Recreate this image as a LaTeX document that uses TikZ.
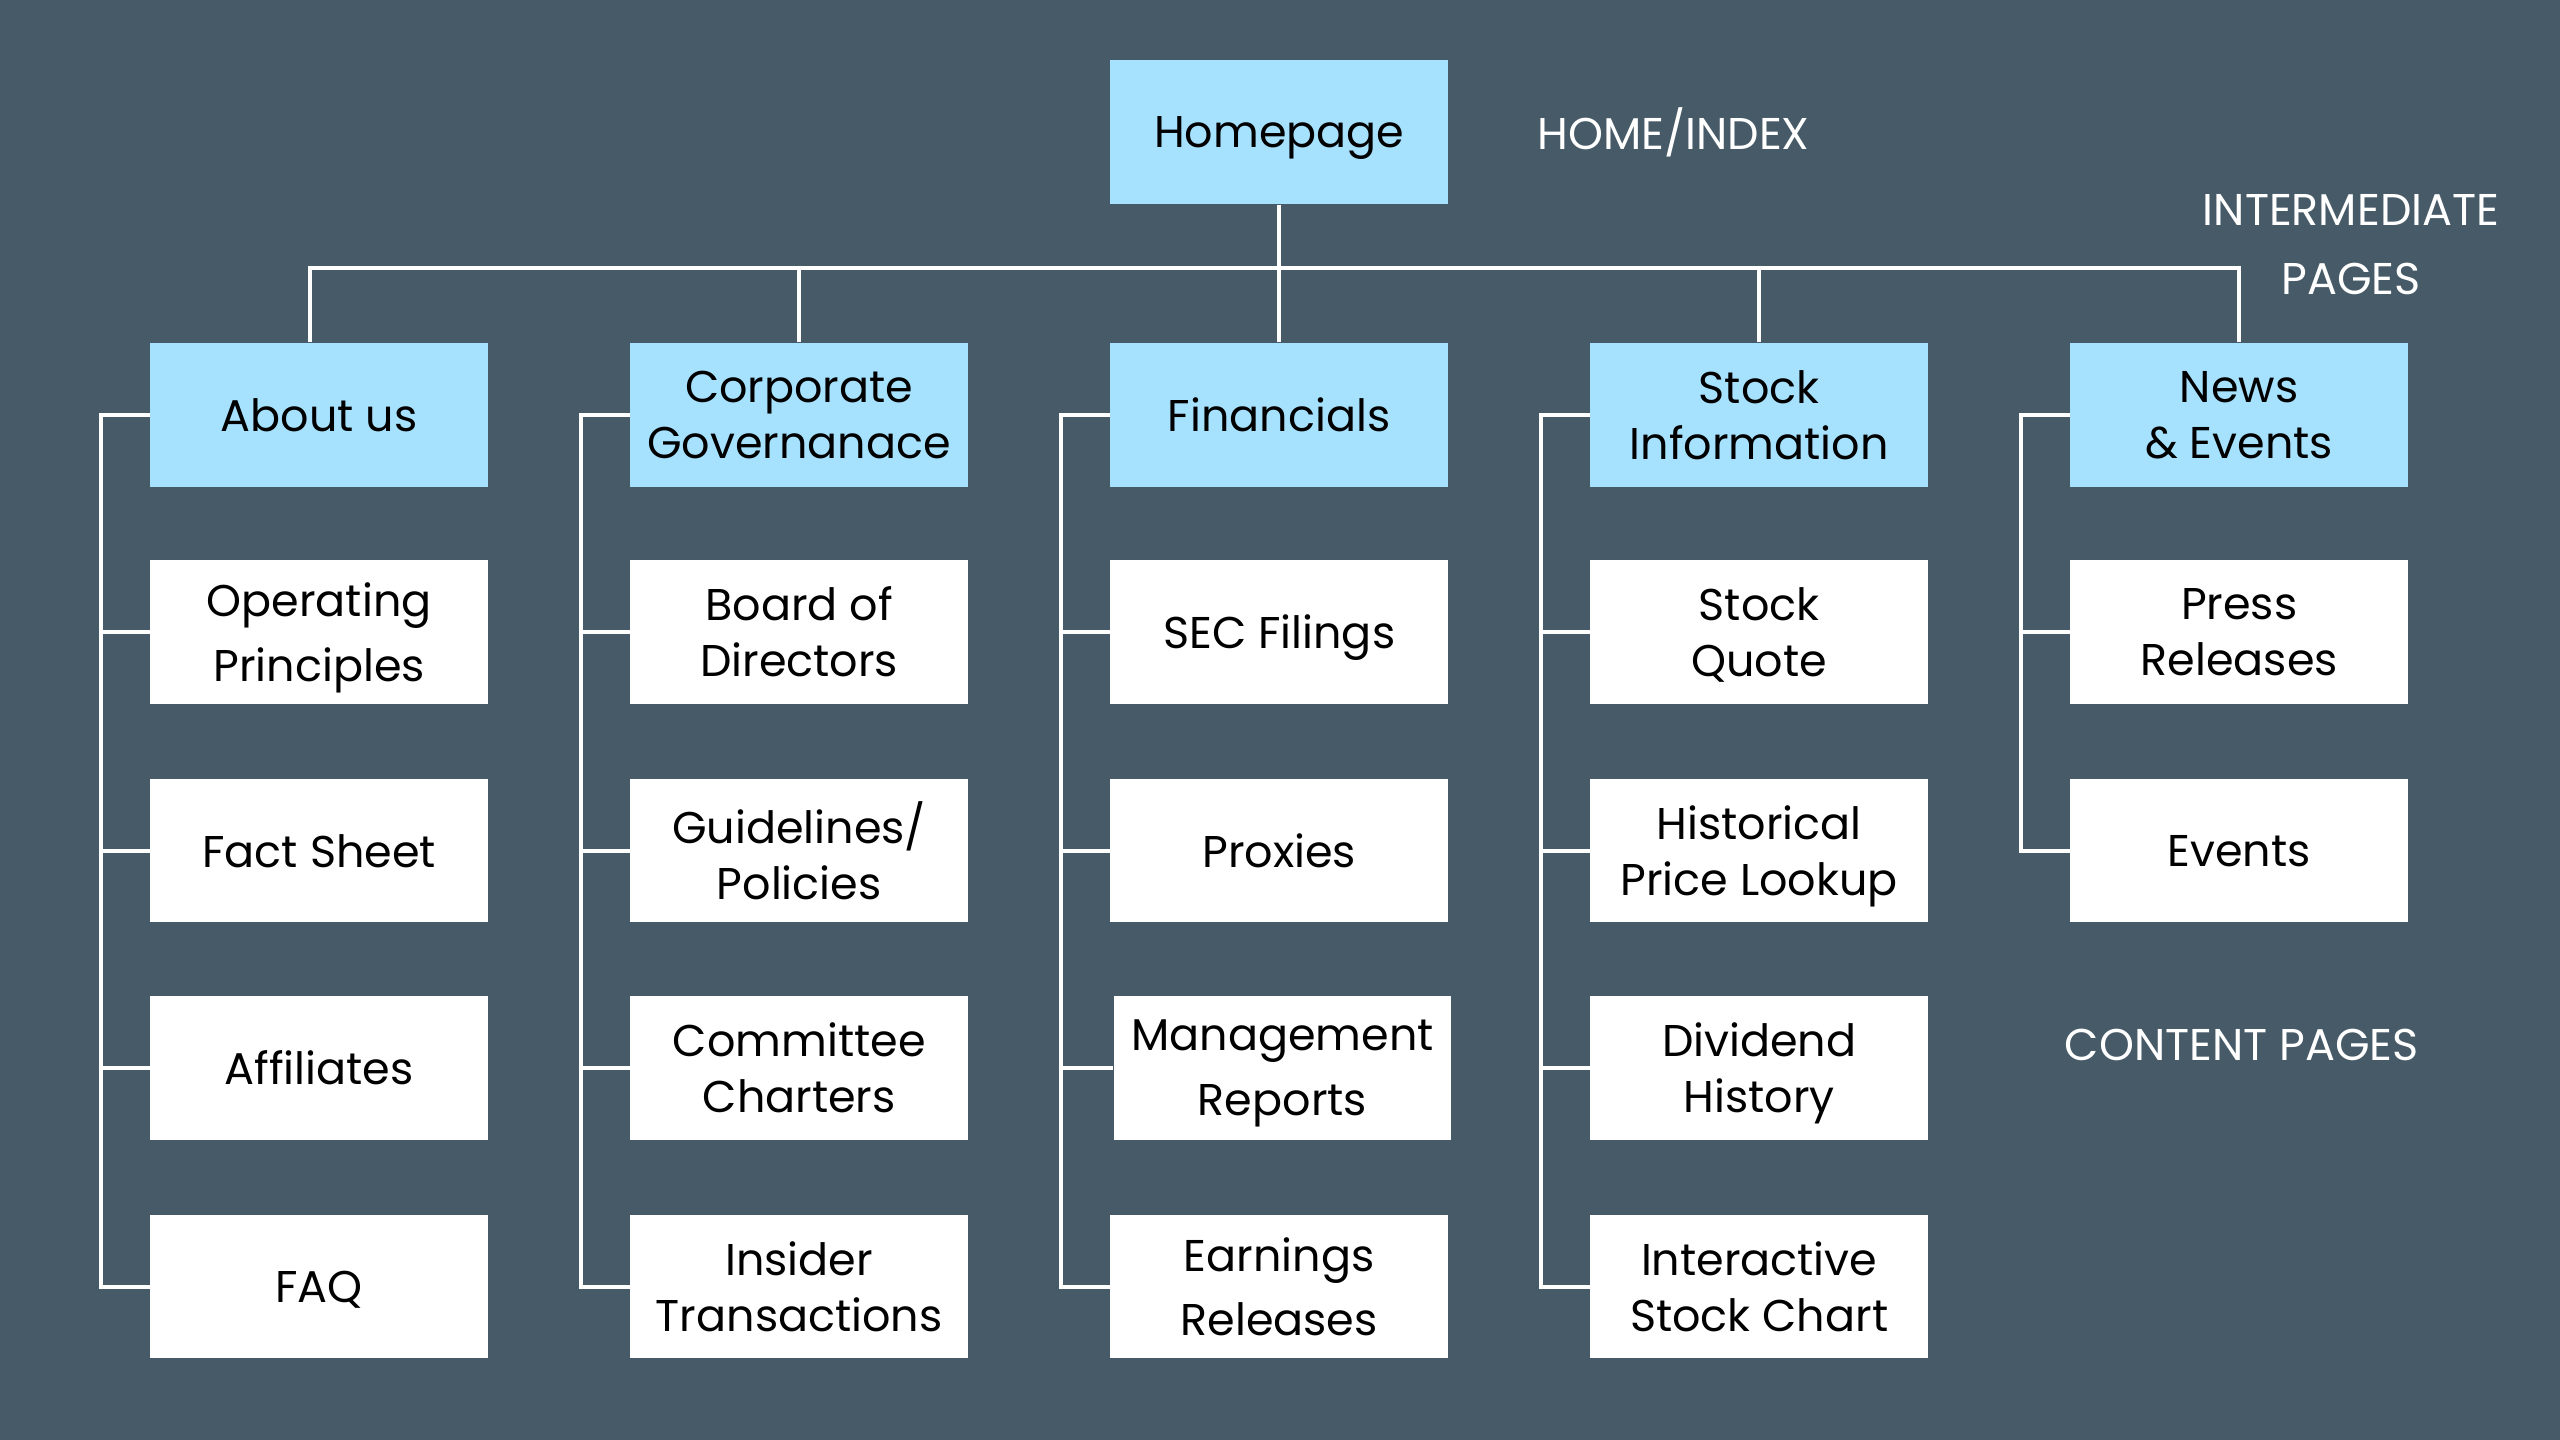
\documentclass[tikz,border=0pt]{standalone}
\usepackage{fontspec}
\setmainfont{Poppins}
\usepackage{tikz}
\usetikzlibrary{positioning, calc}
\definecolor{slatebg}{RGB}{71, 90, 103}
\definecolor{skyblue}{RGB}{166, 226, 254}

\tikzset{
    page/.style={minimum width=4.14cm, minimum height=1.76cm, inner sep=0pt, align=center,
        text depth=0pt, font=\fontsize{15.5}{19.5}\selectfont, text=black},
    mainpage/.style={page, fill=skyblue},
    contentpage/.style={page, fill=white},
    link/.style={white, line width=1.4pt},
    levellabel/.style={white, font=\fontsize{15.5}{20}\selectfont, align=center}
}

\begin{document}
\begin{tikzpicture}[x=0.02cm, y=-0.02cm]
    % Background
    \fill[slatebg] (0,0) rectangle (1568,882);
    \useasboundingbox (0,0) rectangle (1568,882);

    % Home level
    \node[mainpage] (home) at (783.5,81) {Homepage};
    \node[levellabel] (homelabel) at (1025,81) {HOME/INDEX};

    % Intermediate level
    \node[levellabel, font=\fontsize{15.5}{24}\selectfont] (midlabel) at (1440,150) {INTERMEDIATE\\PAGES};
    \node[mainpage] (about) at (195.5,254) {About us};
    \node[mainpage] (corp) at (489.5,254) {Corporate\\Governanace};
    \node[mainpage] (fin) at (783.5,254) {Financials};
    \node[mainpage] (stock) at (1077.5,254) {Stock\\Information};
    \node[mainpage] (news) at (1371.5,254) {News\\\& Events};

    % Content level
    \node[levellabel] (contentlabel) at (1373,640) {CONTENT PAGES};

    \node[contentpage, font=\fontsize{15.5}{22.5}\selectfont] (about1) at (195.5,387) {Operating\\Principles};
    \node[contentpage] (about2) at (195.5,521) {Fact Sheet};
    \node[contentpage] (about3) at (195.5,654) {Affiliates};
    \node[contentpage] (about4) at (195.5,788) {FAQ};

    \node[contentpage] (corp1) at (489.5,387) {Board of\\Directors};
    \node[contentpage] (corp2) at (489.5,521) {Guidelines/\\Policies};
    \node[contentpage] (corp3) at (489.5,654) {Committee\\Charters};
    \node[contentpage] (corp4) at (489.5,788) {Insider\\Transactions};

    \node[contentpage] (fin1) at (783.5,387) {SEC Filings};
    \node[contentpage] (fin2) at (783.5,521) {Proxies};
    \node[contentpage, font=\fontsize{15.5}{22.5}\selectfont] (fin3) at (785.5,654) {Management\\Reports};
    \node[contentpage, font=\fontsize{15.5}{22.5}\selectfont] (fin4) at (783.5,788) {Earnings\\Releases};

    \node[contentpage] (stock1) at (1077.5,387) {Stock\\Quote};
    \node[contentpage] (stock2) at (1077.5,521) {Historical\\Price Lookup};
    \node[contentpage] (stock3) at (1077.5,654) {Dividend\\History};
    \node[contentpage] (stock4) at (1077.5,788) {Interactive\\Stock Chart};

    \node[contentpage] (news1) at (1371.5,387) {Press\\Releases};
    \node[contentpage] (news2) at (1371.5,521) {Events};

    % Home to intermediate pages
    \coordinate (bus) at (783.5,164);
    \draw[link] (home.south) -- (bus);
    \draw[link] ([xshift=-0.11cm]about.north) |- (bus) -| (news.north);
    \draw[link] (corp.north) -- (corp.north |- bus);
    \draw[link] (fin.north) -- (fin.north |- bus);
    \draw[link] (stock.north) -- (stock.north |- bus);

    % Spines to content pages
    \foreach \col/\last in {about/4, corp/4, fin/4, stock/4, news/2} {
        \coordinate (\col spine) at ($(\col.west)+(-30,0)$);
        \draw[link] (\col.west) -- (\col spine) |- (\col\last.west);
        \foreach \i in {1,...,\last} {
            \draw[link] (\col\i.west) -- (\col\i.west -| \col spine);
        }
    }
\end{tikzpicture}
\end{document}
